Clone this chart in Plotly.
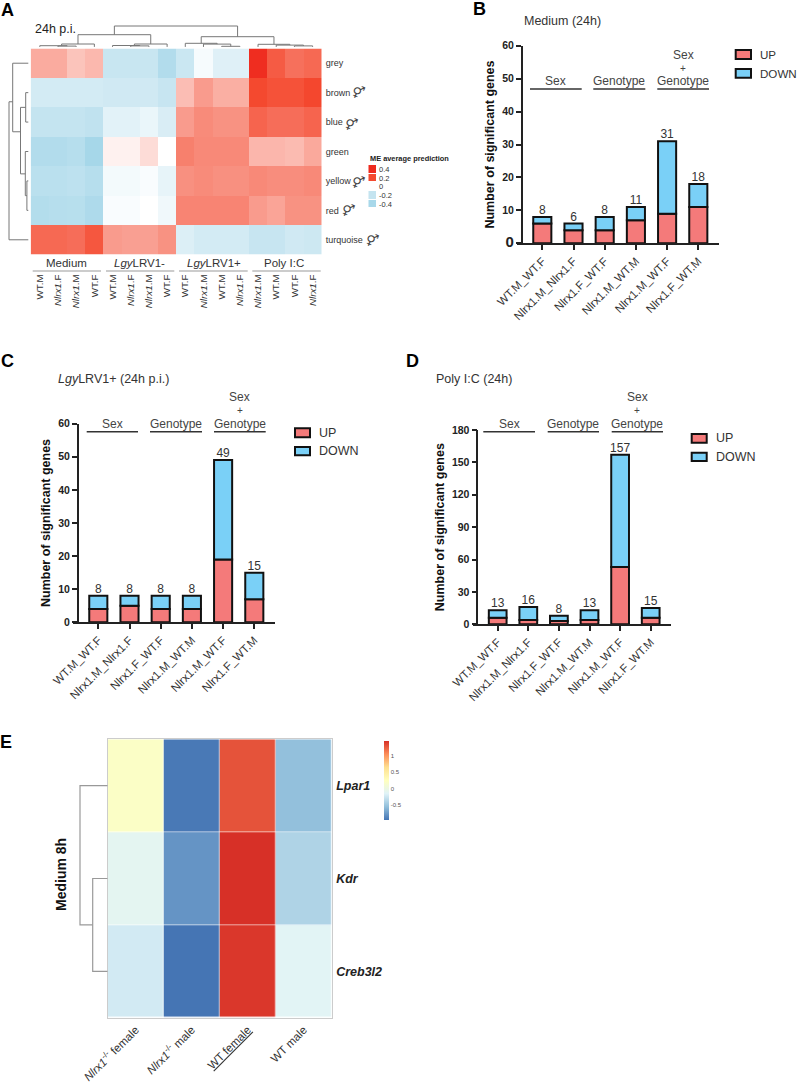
import plotly.graph_objects as go

W, H = 797, 1082
FONT = "Liberation Sans"
INK = "#222222"

# ---------- data: panel A ----------
modules = ["grey", "brown", "blue", "green", "yellow", "red", "turquoise"]
samples_a = ["WT.M", "<i>Nlrx1</i>.F", "<i>Nlrx1</i>.M", "WT.F",
             "WT.M", "<i>Nlrx1</i>.F", "<i>Nlrx1</i>.M", "WT.F",
             "WT.F", "<i>Nlrx1</i>.M", "WT.M", "<i>Nlrx1</i>.F",
             "<i>Nlrx1</i>.M", "WT.M", "WT.F", "<i>Nlrx1</i>.F"]
me_grey = [.092, .092, .065, .078, -.185, -.185, -.185, -.33, -.18, -.03, -.11, -.11, .38, .18, .157, .165]
me_brown = [-.15, -.15, -.15, -.15, -.16, -.16, -.16, -.19, .072, .11, .088, .088, .2, .19, .19, .21]
me_blue = [-.2, -.2, -.2, -.23, -.1, -.1, -.07, -.13, .11, .128, .12, .12, .17, .16, .16, .17]
me_green = [-.33, -.33, -.3, -.42, .015, .015, .038, 0, .14, .13, .13, .13, .08, .08, .075, .095]
me_yellow = [-.27, -.27, -.25, -.3, -.04, -.04, -.02, -.08, .122, .128, .122, .122, .13, .125, .125, .13]
me_red = [-.32, -.3, -.29, -.36, -.02, -.02, 0, -.05, .135, .135, .135, .135, .11, .1, .12, .12]
me_turquoise = [.165, .165, .16, .185, .11, .105, .105, .12, -.12, -.15, -.15, -.15, -.19, -.19, -.16, -.17]
me_legend_values = [.4, .2, 0, -.2, -.4]
me_legend_labels = ["0.4", "0.2", "0", "-0.2", "-0.4"]
groups_a = ["Medium", "<i>Lgy</i>LRV1-", "<i>Lgy</i>LRV1+", "Poly I:C"]
sexed_modules = ["brown", "blue", "yellow", "red", "turquoise"]

# dendrogram merges: (pos_a, pos_b, height, height_a, height_b)
dendro_a_top = [
    (1, 2, 2.4, 1.6, 1.6), (0, 1.5, 2.8, 1.6, 2.4), (1.2, 3, 4.5, 2.8, 1.6),
    (5, 6, 2.6, 1.6, 1.6), (4, 5.5, 3.0, 1.6, 2.6), (5.2, 7, 4.5, 3.0, 1.6),
    (2.1, 6.1, 13.8, 4.5, 4.5),
    (10, 11, 2.2, 1.6, 1.6), (9, 10.5, 4.4, 1.6, 2.2), (8, 9.75, 5.2, 1.6, 4.4),
    (14, 15, 2.6, 1.6, 1.6), (13, 14.5, 3.4, 1.6, 2.6), (12, 13.75, 4.2, 1.6, 3.4),
    (8.875, 12.875, 11.8, 5.2, 4.2),
    (4.1, 10.875, 22.5, 13.8, 11.8),
]
dendro_a_left = [
    (1, 2, 5, 2.4, 2.4), (4, 5, 3.8, 2.4, 2.4), (3, 4.5, 5.4, 2.4, 3.8),
    (1.5, 3.76, 10.2, 5, 5.4), (0, 2.33, 18, 2.4, 10.2), (1.31, 6, 21.7, 18, 2.4),
]

# ---------- data: bar panels ----------
contrasts = ["WT.M_WT.F", "Nlrx1.M_Nlrx1.F", "Nlrx1.F_WT.F", "Nlrx1.M_WT.M", "Nlrx1.M_WT.F", "Nlrx1.F_WT.M"]
up_b = [6, 4, 4, 7, 9, 11]
down_b = [2, 2, 4, 4, 22, 7]
up_c = [4, 5, 4, 4, 19, 7]
down_c = [4, 3, 4, 4, 30, 8]
up_d = [6, 4, 3, 4, 53, 6]
down_d = [7, 12, 5, 9, 104, 9]
ticks_b = [0, 10, 20, 30, 40, 50, 60]
ticks_c = [0, 10, 20, 30, 40, 50, 60]
ticks_d = [0, 30, 60, 90, 120, 150, 180]

# ---------- data: panel E ----------
genes = ["Lpar1", "Kdr", "Creb3l2"]
samples_e = ["<i>Nlrx1</i><sup>-/-</sup> female", "<i>Nlrx1</i><sup>-/-</sup> male",
             "<span style='text-decoration:underline'>WT female</span>", "WT male"]
expr_lpar1 = [.2, -.93, 1.3, -.54]
expr_kdr = [-.1, -.78, 1.45, -.4]
expr_creb3l2 = [-.22, -.95, 1.42, -.13]
dendro_e = [(1, 2, 15, 0, 0), (0, 1.5, 27.7, 0, 15)]

# ---------- helpers ----------
def fx(px): return px / W
def fy(py): return 1 - py / H

fig = go.Figure()
axis_n = [0]
def new_axes(x0, x1, y0, y1, xa, ya):
    """Allocate an x/y axis pair placed on pixel rectangle."""
    axis_n[0] += 1
    n = axis_n[0]
    s = "" if n == 1 else str(n)
    xa = dict(domain=[fx(x0), fx(x1)], anchor="y" + s, automargin=False, **xa)
    ya = dict(domain=[fy(y1), fy(y0)], anchor="x" + s, automargin=False, **ya)
    fig.update_layout(**{"xaxis" + s: xa, "yaxis" + s: ya})
    return "x" + s, "y" + s

hidden = dict(visible=False, showgrid=False, zeroline=False)
notes, shapes = [], []

def note(x, y, text, size=11, color=INK, anchor="center", angle=0, family=FONT):
    notes.append(dict(xref="paper", yref="paper", x=fx(x), y=fy(y), text=text, showarrow=False,
                      xanchor=anchor, yanchor="middle", textangle=angle,
                      font=dict(family=family, size=size, color=color)))

def hline(x0, x1, y, color=INK, width=1.5):
    shapes.append(dict(type="line", xref="paper", yref="paper", x0=fx(x0), x1=fx(x1), y0=fy(y), y1=fy(y),
                       line=dict(color=color, width=width)))

def merge_path(merges):
    pos, hgt = [], []
    for a, b, h, ha, hb in merges:
        pos += [a, a, b, b, None]
        hgt += [ha, h, h, hb, None]
    return pos, hgt

# ---------- panel A ----------
ax0, ax1, ay0, ay1 = 30.7, 321.7, 48.5, 254.5
z_min, z_max = -.45, .4
def nrm(v): return (v - z_min) / (z_max - z_min)
scale_a = [[nrm(-.45), "#a3d5e8"], [nrm(-.4), "#a8d8ea"], [nrm(-.2), "#c4e4f0"], [nrm(0), "#ffffff"],
           [nrm(.2), "#f4492f"], [nrm(.4), "#ee2a1e"]]
me_matrix = [me_grey, me_brown, me_blue, me_green, me_yellow, me_red, me_turquoise]
xa, ya = new_axes(ax0, ax1, ay0, ay1,
    dict(range=[-.5, 15.5], tickmode="array", tickvals=list(range(16)), ticktext=samples_a, tickangle=-90,
         ticks="", ticklabelstandoff=17, showgrid=False, zeroline=False, tickfont=dict(family=FONT, size=9.8, color="#333")),
    dict(range=[6.5, -.5], tickmode="array", tickvals=list(range(7)), ticktext=modules, side="right",
         ticks="", ticklabelstandoff=3, showgrid=False, zeroline=False, tickfont=dict(family=FONT, size=9, color="#333")))
fig.add_trace(go.Heatmap(z=me_matrix, colorscale=scale_a, zmin=z_min, zmax=z_max, showscale=False, xaxis=xa, yaxis=ya))

xa, ya = new_axes(ax0, ax1, ay0 - 25, ay0, dict(range=[-.5, 15.5], **hidden), dict(range=[0, 25], **hidden))
p, h = merge_path(dendro_a_top)
fig.add_trace(go.Scatter(x=p, y=h, mode="lines", line=dict(color="#777", width=1), xaxis=xa, yaxis=ya, hoverinfo="skip"))

xa, ya = new_axes(0, ax0, ay0, ay1, dict(range=[ax0, 0], **hidden), dict(range=[6.5, -.5], **hidden))
p, h = merge_path(dendro_a_left)
fig.add_trace(go.Scatter(x=h, y=p, mode="lines", line=dict(color="#777", width=1), xaxis=xa, yaxis=ya, hoverinfo="skip"))

# discrete ME legend
xa, ya = new_axes(368.3, 376, 165, 208.3, dict(range=[-.5, .5], **hidden),
    dict(range=[4.5, -.5], tickmode="array", tickvals=list(range(5)), ticktext=me_legend_labels, side="right",
         ticks="", ticklabelstandoff=2, showgrid=False, zeroline=False, showline=False,
         tickfont=dict(family=FONT, size=7.5, color="#333")))
fig.add_trace(go.Heatmap(z=[[v] for v in me_legend_values], colorscale=scale_a, zmin=z_min, zmax=z_max,
                         showscale=False, ygap=1, xaxis=xa, yaxis=ya))
note(368, 159, "<b>ME average prediction</b>", size=7.4, anchor="left")

note(55.7, 29, "24h p.i.", size=12.5)
for label, cx, (l0, l1) in zip(groups_a, [66.7, 139, 214, 284.3],
                               [(32.7, 101), (106, 174.3), (179, 247.7), (252.3, 320.7)]):
    note(cx, 263.3, label, size=11.5, color="#333")
    hline(l0, l1, 271, color="#999", width=1)
for name, sx, sy in zip(sexed_modules, [358, 351, 358, 347.7, 371.7], [92.7, 124, 182, 210, 240]):
    note(sx, sy, "\u26a5", size=13, color="#444", angle=22, family="DejaVu Sans")

# ---------- bar panels ----------
UP, DOWN = "#f47a7a", "#7ad0f7"
def bar_panel(up, down, ticks, x_start, x_axis, x_end, y_base, y_top, c0, step, big_zero=False, stand=4):
    lo, hi = (x_start - c0) / step, (x_end - c0) / step
    idx = list(range(len(contrasts)))
    ticktext = [str(t) for t in ticks]
    if big_zero:
        ticktext[0] = "<span style='font-size:15px'>0</span>"
    xa, ya = new_axes(x_start, x_end, y_top, y_base,
        dict(range=[lo, hi], tickmode="array", tickvals=idx, ticktext=contrasts, tickangle=-45, ticks="outside",
             ticklen=5, tickwidth=1.5, tickcolor=INK, showline=True, linecolor=INK, linewidth=1.5, showgrid=False,
             zeroline=False, tickfont=dict(family=FONT, size=11.5, color="#333")),
        dict(range=[0, ticks[-1]], tickmode="array", tickvals=ticks, ticktext=ticktext, ticks="outside",
             ticklen=5, tickwidth=1.5, tickcolor=INK, showline=True, linecolor=INK, linewidth=1.5, showgrid=False,
             zeroline=False, tickfont=dict(family=FONT, size=10.5, color=INK, weight=700),
             title=dict(text="<b>Number of significant genes</b>", standoff=stand,
                        font=dict(family=FONT, size=12.5, color="#111"))))
    ya_key = "yaxis" + ya[1:]
    fig.layout[ya_key].anchor = "free"
    fig.layout[ya_key].position = fx(x_axis)
    bar_line = dict(color="#111", width=2)
    fig.add_trace(go.Bar(x=idx, y=up, width=.58, marker=dict(color=UP, line=bar_line), xaxis=xa, yaxis=ya, name="UP", offsetgroup=str(xa)))
    fig.add_trace(go.Bar(x=idx, y=down, base=up, width=.58, marker=dict(color=DOWN, line=bar_line), xaxis=xa, yaxis=ya, name="DOWN", offsetgroup=str(xa)))
    totals = [a + b for a, b in zip(up, down)]
    fig.add_trace(go.Scatter(x=idx, y=totals, mode="text", text=[str(t) for t in totals], textposition="top center",
                             textfont=dict(family=FONT, size=12, color="#333"), cliponaxis=False, xaxis=xa, yaxis=ya))

def brackets(spans, y_line):
    for i, (l0, l1) in enumerate(spans):
        cx = (l0 + l1) / 2
        hline(l0, l1, y_line, color="#333", width=1.5)
        if i == 0:
            note(cx, y_line - 8, "Sex", size=12, color="#444")
        elif i == 1:
            note(cx, y_line - 8, "Genotype", size=12, color="#444")
        else:
            note(cx, y_line - 8, "Genotype", size=12, color="#444")
            note(cx, y_line - 21, "+", size=10, color="#444")
            note(cx, y_line - 34.5, "Sex", size=12, color="#444")

def legend_box(x0, x1, y0a, y1a, y0b, y1b, xt, size=12.5):
    for (a, b, col, label) in [(y0a, y1a, UP, "UP"), (y0b, y1b, DOWN, "DOWN")]:
        shapes.append(dict(type="rect", xref="paper", yref="paper", x0=fx(x0), x1=fx(x1), y0=fy(a), y1=fy(b),
                           fillcolor=col, line=dict(color="#111", width=2)))
        note(xt, (a + b) / 2, label, size=size, color="#333", anchor="left")

bar_panel(up_b, down_b, ticks_b, 516.7, 521.7, 719, 243.3, 45.7, 542.3, 31.2, big_zero=True)
brackets([(530, 581.7), (593.3, 645.3), (657.3, 709)], 89)
legend_box(735.7, 751, 50, 59, 69, 77.7, 758.4, size=11.6)
note(521.7, 20.7, "Medium (24h)", size=12.5, color="#333", anchor="left")

bar_panel(up_c, down_c, ticks_c, 72.7, 77.7, 275.3, 622.3, 423.7, 98.3, 31.2)
brackets([(86.7, 138), (150, 202), (214, 265.7)], 431.7)
legend_box(295, 310, 428.3, 437.3, 447, 455.3, 317)
note(56, 379.3, "<i>Lgy</i>LRV1+ (24h p.i.)", size=12.5, color="#333", anchor="left")

bar_panel(up_d, down_d, ticks_d, 472.7, 477.3, 670.7, 624.3, 430, 497.7, 30.6)
brackets([(483.3, 535), (547.7, 599), (611.7, 663)], 431.7)
legend_box(691.7, 706.7, 434, 442.7, 452.7, 461, 714)
note(434.3, 379.3, "Poly I:C (24h)", size=12.5, color="#333", anchor="left")

# ---------- panel E ----------
ex0, ex1, ey0, ey1 = 107.7, 331.7, 739.3, 1017.7
scale_vals = [-.95, -.55, -.15, .25, .65, 1.05, 1.45]
scale_cols = ["#4575b4", "#91bfdb", "#e0f3f8", "#ffffbf", "#fee090", "#fc8d59", "#d73027"]
scale_e = [[(v + .95) / 2.4, c] for v, c in zip(scale_vals, scale_cols)]
xa, ya = new_axes(ex0, ex1, ey0, ey1,
    dict(range=[-.5, 3.5], tickmode="array", tickvals=list(range(4)), ticktext=samples_e, tickangle=-45, ticks="",
         ticklabelstandoff=0, showgrid=False, zeroline=False, mirror=True, showline=True, linecolor="#ccc", linewidth=1,
         tickfont=dict(family=FONT, size=11.5, color="#333")),
    dict(range=[2.5, -.5], tickmode="array", tickvals=list(range(3)),
         ticktext=["<b><i>%s</i></b>" % g for g in genes], side="right", ticks="", ticklabelstandoff=1, showgrid=False,
         zeroline=False, mirror=True, showline=True, linecolor="#ccc", linewidth=1,
         tickfont=dict(family=FONT, size=12.5, color="#222")))
fig.add_trace(go.Heatmap(z=[expr_lpar1, expr_kdr, expr_creb3l2], colorscale=scale_e, zmin=-.95, zmax=1.45,
                         xgap=.6, ygap=.6,
                         colorbar=dict(thickness=5, len=79.3 / H, lenmode="fraction", x=fx(384), xanchor="left",
                                       y=fy(740.7), yanchor="top", outlinewidth=0, tickmode="array",
                                       tickvals=[-.5, 0, .5, 1], ticktext=["-0.5", "0", "0.5", "1"], ticks="",
                                       ticklabelposition="outside", xpad=0, ypad=0,
                                       tickfont=dict(family=FONT, size=6, color="#555")),
                         xaxis=xa, yaxis=ya))
xa, ya = new_axes(70, ex0, ey0, ey1, dict(range=[ex0 - 70, 0], **hidden), dict(range=[2.5, -.5], **hidden))
p, h = merge_path(dendro_e)
fig.add_trace(go.Scatter(x=h, y=p, mode="lines", line=dict(color="#999", width=1.2), xaxis=xa, yaxis=ya, hoverinfo="skip"))
note(61, 875, "<b>Medium 8h</b>", size=14, color="#111", angle=-90)

# ---------- panel letters ----------
for letter, lx, ly in [("A", 7, 10), ("B", 479, 9), ("C", 7, 361), ("D", 412, 361), ("E", 6, 742)]:
    note(lx, ly, "<b>%s</b>" % letter, size=18, color="#000")

fig.update_layout(width=W, height=H, margin=dict(l=0, r=0, t=0, b=0), showlegend=False, barmode="overlay",
                  paper_bgcolor="white", plot_bgcolor="rgba(0,0,0,0)", annotations=notes, shapes=shapes,
                  font=dict(family=FONT))
fig.write_html("out.html", post_script="document.body.style.margin='0';", config={"displayModeBar": False})
